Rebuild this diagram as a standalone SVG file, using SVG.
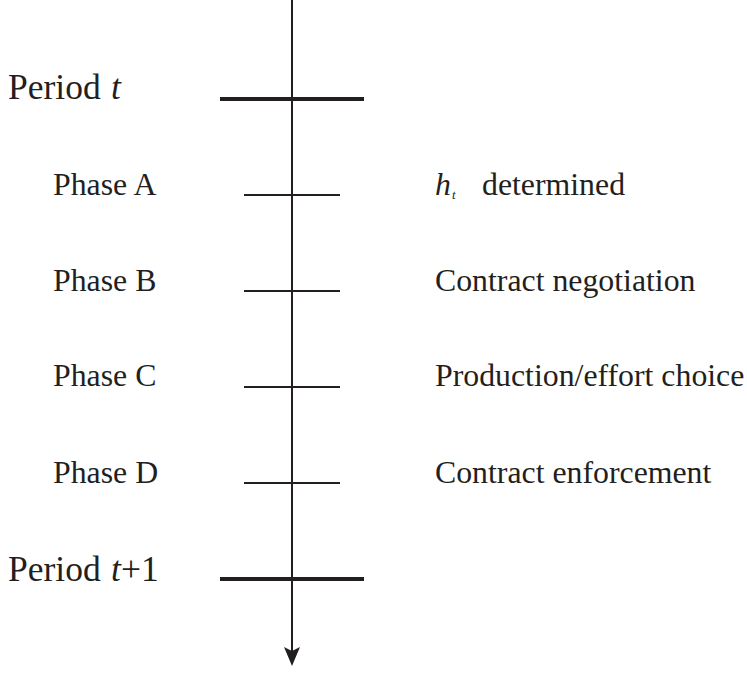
<svg xmlns="http://www.w3.org/2000/svg" width="747" height="675" viewBox="0 0 747 675">
<style>
text{font-family:"Liberation Serif","Times New Roman",serif;fill:#231f20}
.per{font-size:35.5px}
.ph{font-size:31.8px}
.it{font-style:italic}
.bar{stroke:#231f20;stroke-width:4;fill:none}
.tick{stroke:#231f20;stroke-width:2;fill:none}
</style>
<rect width="747" height="675" fill="#fff"/>
<g id="connectors">
<line x1="292" y1="0" x2="292" y2="652" stroke="#231f20" stroke-width="2"/>
<path d="M284,647 L292,666 L300,647 L292,651 Z" fill="#231f20"/>
</g>
<g id="period-t">
<line class="bar" x1="220" y1="99" x2="364" y2="99"/>
<text class="per" x="8" y="99">Period</text>
<text class="per it" x="111" y="99">t</text>
</g>
<g id="phase-a">
<line class="tick" x1="244" y1="195" x2="340" y2="195"/>
<text class="ph" x="53" y="195">Phase A</text>
<text class="ph it" x="435" y="195">h</text>
<text class="it" x="452" y="199" font-size="13">t</text>
<text class="ph" x="482" y="195">determined</text>
</g>
<g id="phase-b">
<line class="tick" x1="244" y1="291" x2="340" y2="291"/>
<text class="ph" x="53" y="291">Phase B</text>
<text class="ph" x="435" y="291">Contract negotiation</text>
</g>
<g id="phase-c">
<line class="tick" x1="244" y1="387" x2="340" y2="387"/>
<text class="ph" x="53" y="386">Phase C</text>
<text class="ph" x="435" y="386">Production/effort choice</text>
</g>
<g id="phase-d">
<line class="tick" x1="244" y1="483" x2="340" y2="483"/>
<text class="ph" x="53" y="483">Phase D</text>
<text class="ph" x="435" y="483">Contract enforcement</text>
</g>
<g id="period-t1">
<line class="bar" x1="220" y1="579" x2="364" y2="579"/>
<text class="per" x="8" y="581">Period</text>
<text class="per" x="111" y="581"><tspan class="it">t</tspan>+1</text>
</g>
</svg>
